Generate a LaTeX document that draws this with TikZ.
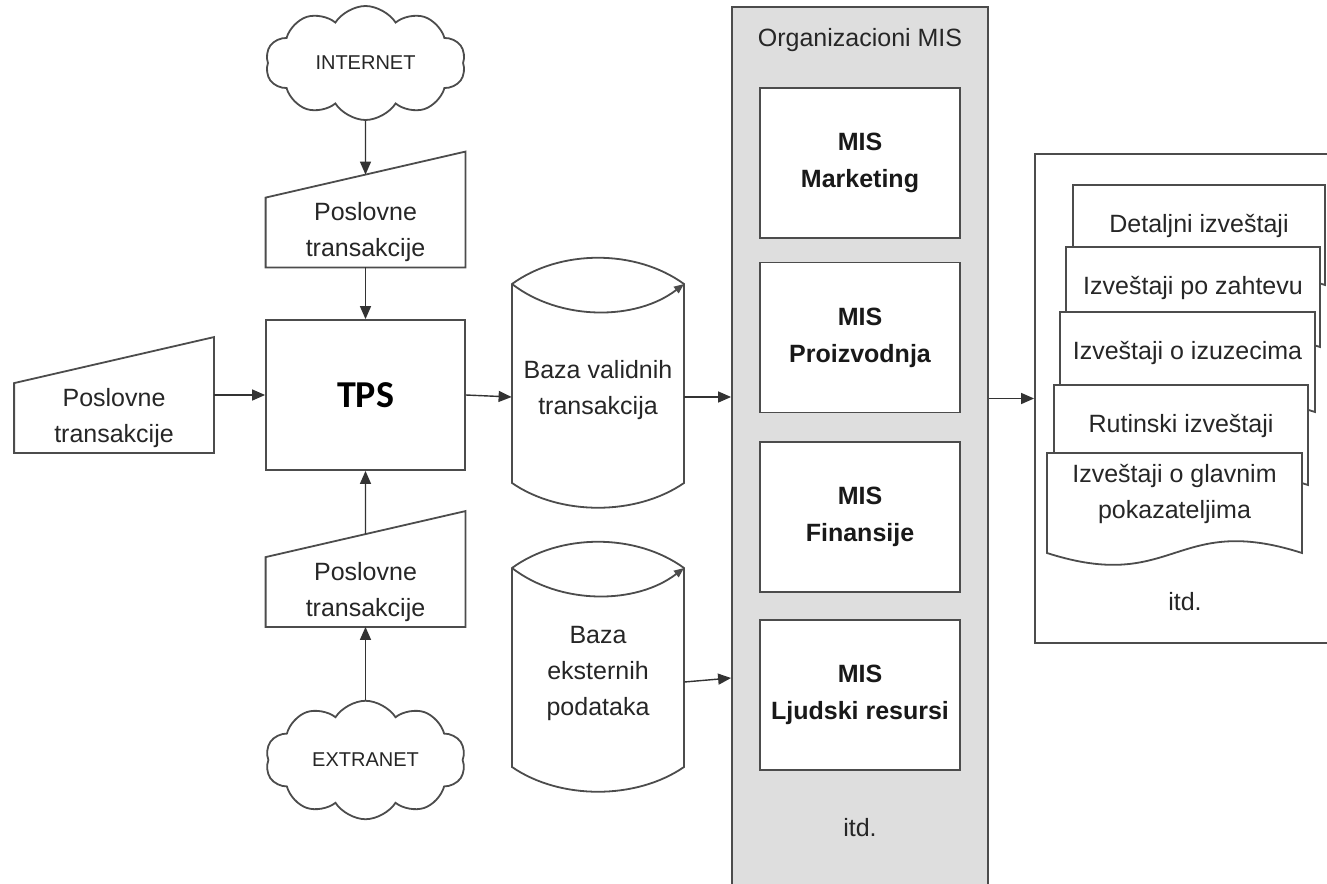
\documentclass[tikz,border=0pt]{standalone}
\usepackage{fontspec}
\setmainfont{Liberation Sans}
\newfontfamily\tpsfont{Carlito}
\usetikzlibrary{arrows.meta,shapes.symbols,calc}

\begin{document}
\begin{tikzpicture}[x=0.5pt,y=-0.5pt,
    shapeline/.style={draw=black!70, line width=0.9pt},
    arr/.style={draw=black!80, line width=0.7pt, -{Triangle[length=6.5pt,width=5.5pt]}},
    txt/.style={font=\fontsize{12.5}{18}\selectfont, text=black!85, align=center},
    cloudbox/.style={cloud, cloud puffs=10, cloud puff arc=115, aspect=1.8, shapeline,
      minimum width=100pt, minimum height=57pt, font=\fontsize{10}{12}\selectfont, text=black!85},
    inbox/.style={txt, minimum width=99.5pt, minimum height=34.5pt, inner sep=0pt},
    misbox/.style={shapeline, fill=white, minimum width=100pt, minimum height=75pt, align=center,
      font=\fontsize{12.5}{18.5}\selectfont\bfseries, text=black!90}]
  \useasboundingbox (0,0) rectangle (1327,883);

  % ulazi
  \node[cloudbox] (inet) at (365.5,63) {INTERNET};
  \node[cloudbox] (extra) at (365.5,760) {EXTRANET};
  \node[inbox] (pt1) at (365.5,232.5) {Poslovne\\transakcije};
  \node[inbox] (pt2) at (114,418) {Poslovne\\transakcije};
  \node[inbox] (pt3) at (365.5,592) {Poslovne\\transakcije};
  \foreach \n in {pt1,pt2,pt3}
    \draw[shapeline] (\n.north west) -- (\n.south west) -- (\n.south east) -- ($(\n.north east)+(0,-46)$) -- cycle;
  \coordinate (pt1top) at ($(pt1.north west)!0.5!(pt1.north east)+(0,-23)$);
  \coordinate (pt3top) at ($(pt3.north west)!0.5!(pt3.north east)+(0,-23)$);

  \node[shapeline, minimum width=99.5pt, minimum height=75pt,
    font=\tpsfont\fontsize{19}{22}\selectfont\bfseries] (tps) at (365.5,395) {TPS};

  % baze
  \foreach \t/\b in {284/483, 568/767} {
    \draw[shapeline, fill=white] (512,\t) .. controls (560,\t-35) and (636,\t-35) .. (684,\t)
      -- (684,\b) .. controls (636,\b+33) and (560,\b+33) .. (512,\b) -- cycle;
    \draw[shapeline, -{Triangle[length=5pt,width=4pt]}] (512,\t) .. controls (560,\t+37) and (636,\t+37) .. (684,\t);
  }
  \node[txt, minimum width=86pt, inner sep=0pt] (db1) at (598,390) {Baza validnih\\transakcija};
  \node[txt, minimum width=86pt, inner sep=0pt] (db2) at (598,673) {Baza\\eksternih\\podataka};

  % organizacioni MIS
  \node[shapeline, fill=black!13, minimum width=128pt, minimum height=450pt, inner sep=0pt] (mis) at (860,457) {};
  \node[txt] (mistitle) at (860,40) {Organizacioni MIS};
  \foreach \y/\n/\t in {163/m1/Marketing, 337.5/m2/Proizvodnja, 517/m3/Finansije, 695/m4/Ljudski resursi}
    \node[misbox] (\n) at (860,\y) {MIS\\\t};
  \node[txt] (misitd) at (860,828) {itd.};

  % izvestaji
  \node[shapeline, minimum width=152.5pt, minimum height=244.5pt, inner sep=0pt] (rep) at (1187.5,398.5) {};
  \foreach \l/\t/\r/\s [count=\i] in {1073/185/1325/{Detaljni izveštaji}, 1066/247/1320/{Izveštaji po zahtevu},
      1060/312/1315/{Izveštaji o izuzecima}, 1054/385/1308/{Rutinski izveštaji},
      1047/453/1302/{Izveštaji o glavnim\\pokazateljima}} {
    \draw[shapeline, fill=white] (\l,\t) -- (\r,\t) -- (\r,\t+100)
      .. controls ({(\l+\r)/2},\t+59) and ({(\l+\r)/2},\t+141) .. (\l,\t+100) -- cycle;
    \node[txt] (doc\i) at ({(\l+\r)/2},\t+41) {\s};
  }
  \node[txt] (repitd) at (1185,602) {itd.};

  % veze
  \draw[arr] (inet.south) -- (pt1top);
  \draw[arr] (pt1.south) -- (tps.north);
  \draw[arr] (tps.west -| pt2.east) -- (tps.west);
  \draw[arr] (extra.north) -- (pt3.south);
  \draw[arr] (pt3top) -- (tps.south);
  \draw[arr] (tps.east) -- ([yshift=-3.5pt]db1.west);
  \draw[arr] ([yshift=-3.5pt]db1.east) -- ([yshift=-3.5pt]db1.east -| mis.west);
  \draw[arr] ([yshift=-4.5pt]db2.east) -- ([yshift=-2.5pt]db2.east -| mis.west);
  \draw[arr] (mis.east |- rep.west) -- (rep.west);
\end{tikzpicture}
\end{document}
